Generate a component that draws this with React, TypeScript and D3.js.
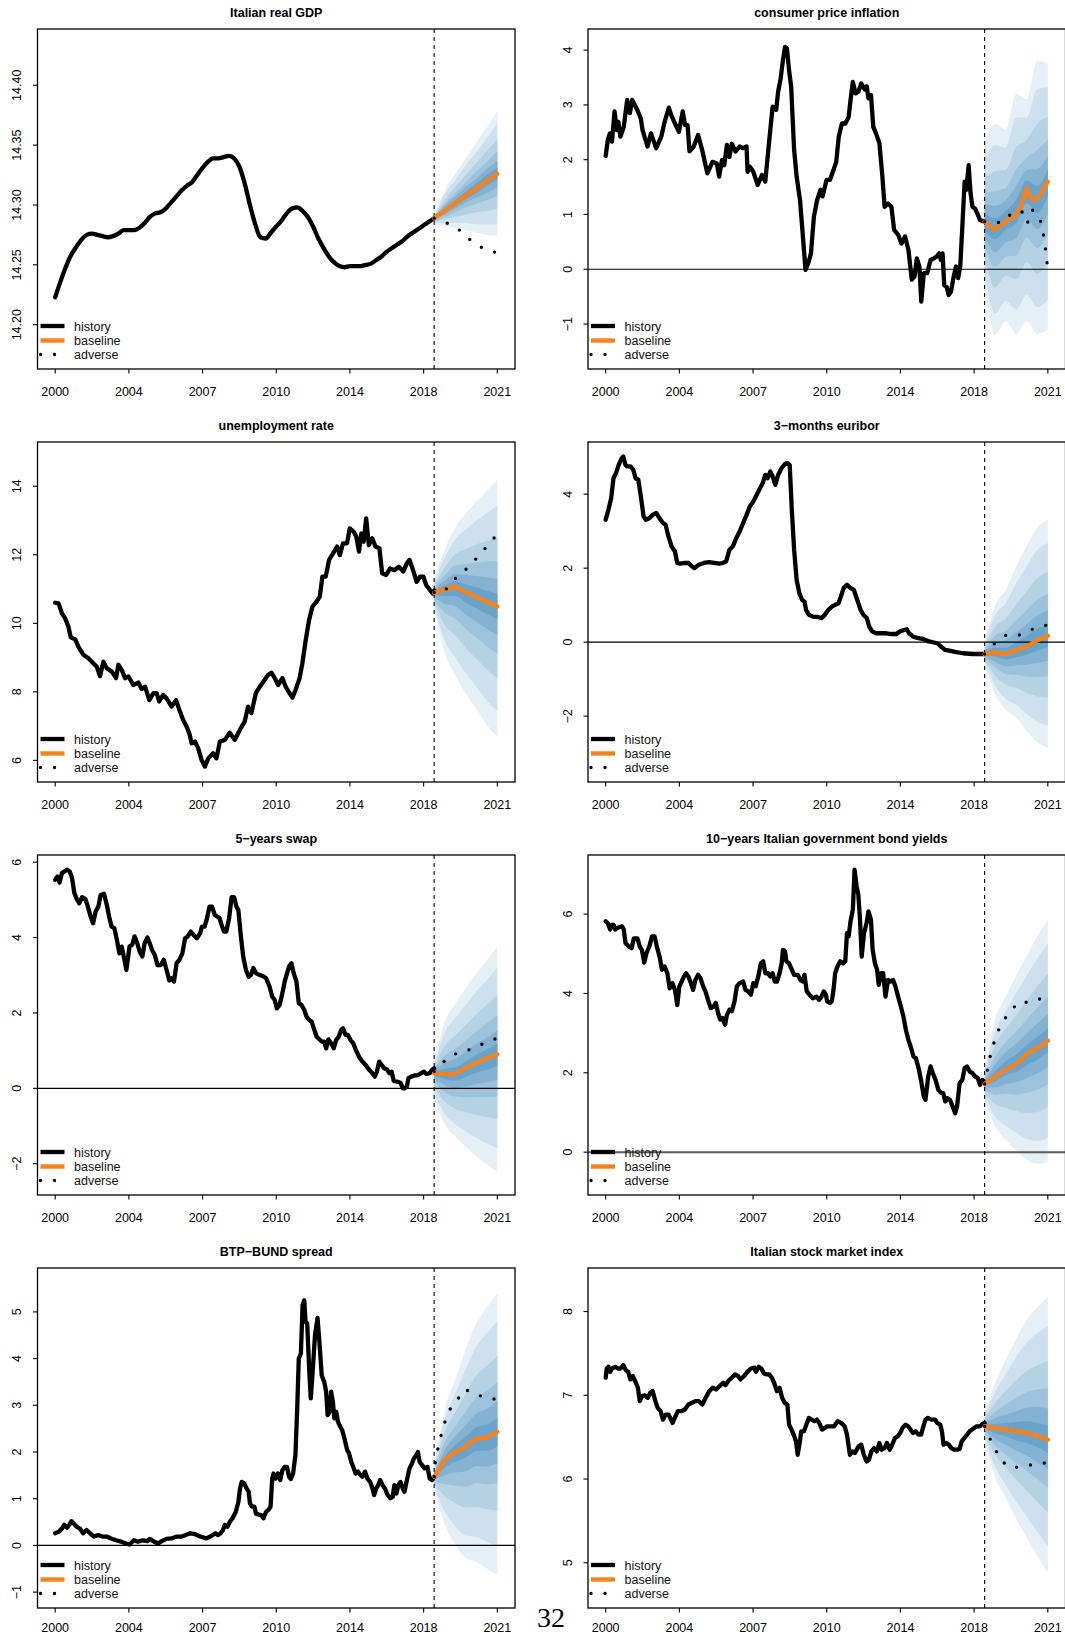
import * as d3 from "d3";

type Pt = [number, number];

// axis ticks: the x axis is evenly spaced in time, labels are rounded years
const xTickYears = [2000, 2003.5, 2007, 2010.5, 2014, 2017.5, 2021];
const xTickLabels = ["2000", "2004", "2007", "2010", "2014", "2018", "2021"];
const fanYears = [2018, 2018.5, 2019, 2019.5, 2020, 2020.5, 2021];
const fanColors = ["#e5eff6", "#cde0ed", "#b5d1e4", "#9dc2db", "#84b2d2", "#6aa3c9"];
const legendLabels = ["history", "baseline", "adverse"];

// ---- Italian real GDP (log) ----
const gdpHistory: Pt[] = [
  [2000, 14.223], [2000.25, 14.236], [2000.5, 14.248], [2000.75, 14.258], [2001, 14.265], [2001.25, 14.271],
  [2001.5, 14.275], [2001.75, 14.276], [2002, 14.275], [2002.25, 14.274], [2002.5, 14.273], [2002.75, 14.274],
  [2003, 14.276], [2003.25, 14.279], [2003.5, 14.279], [2003.75, 14.279], [2004, 14.281], [2004.25, 14.285],
  [2004.5, 14.29], [2004.75, 14.293], [2005, 14.294], [2005.25, 14.297], [2005.5, 14.302], [2005.75, 14.307],
  [2006, 14.312], [2006.25, 14.316], [2006.5, 14.319], [2006.75, 14.325], [2007, 14.331], [2007.25, 14.336],
  [2007.5, 14.339], [2007.75, 14.339], [2008, 14.34], [2008.25, 14.341], [2008.5, 14.339], [2008.75, 14.332],
  [2009, 14.318], [2009.25, 14.3], [2009.5, 14.284], [2009.75, 14.273], [2010, 14.272], [2010.25, 14.277],
  [2010.5, 14.282], [2010.75, 14.287], [2011, 14.293], [2011.25, 14.297], [2011.5, 14.298], [2011.75, 14.295],
  [2012, 14.29], [2012.25, 14.282], [2012.5, 14.272], [2012.75, 14.264], [2013, 14.257], [2013.25, 14.252],
  [2013.5, 14.249], [2013.75, 14.248], [2014, 14.249], [2014.25, 14.249], [2014.5, 14.249], [2014.75, 14.25],
  [2015, 14.251], [2015.25, 14.254], [2015.5, 14.257], [2015.75, 14.261], [2016, 14.264], [2016.25, 14.267],
  [2016.5, 14.27], [2016.75, 14.274], [2017, 14.277], [2017.25, 14.28], [2017.5, 14.283], [2017.75, 14.286],
  [2018, 14.289],
];
const gdpBaseline: Pt[] = [[2018, 14.289], [2021, 14.326]];
const gdpAdverse: Pt[] = [[2018, 14.289], [2018.6, 14.285], [2019.2, 14.279], [2019.7, 14.271], [2020.2, 14.265], [2020.8, 14.261], [2021, 14.26]];
const gdpFan = [
  [14.284, 14.285, 14.286, 14.287, 14.288, 14.289, 14.289, 14.289, 14.29, 14.29, 14.291, 14.291],
  [14.282, 14.285, 14.288, 14.29, 14.292, 14.294, 14.297, 14.299, 14.301, 14.304, 14.309, 14.312],
  [14.281, 14.285, 14.29, 14.294, 14.297, 14.299, 14.304, 14.307, 14.31, 14.315, 14.321, 14.326],
  [14.279, 14.285, 14.292, 14.298, 14.302, 14.305, 14.311, 14.315, 14.319, 14.325, 14.333, 14.339],
  [14.277, 14.284, 14.294, 14.301, 14.306, 14.31, 14.318, 14.322, 14.328, 14.335, 14.344, 14.352],
  [14.275, 14.284, 14.295, 14.304, 14.31, 14.316, 14.325, 14.33, 14.336, 14.345, 14.356, 14.365],
  [14.274, 14.284, 14.297, 14.307, 14.315, 14.321, 14.331, 14.337, 14.345, 14.355, 14.368, 14.378],
];

// ---- consumer price inflation ----
const cpiHistory: Pt[] = [
  [2000, 2.07], [2000.1, 2.36], [2000.2, 2.48], [2000.3, 2.33], [2000.42, 2.88], [2000.53, 2.54], [2000.6, 2.69],
  [2000.7, 2.42], [2000.86, 2.6], [2001.02, 3.09], [2001.15, 2.85], [2001.26, 3.09], [2001.5, 2.91], [2001.67, 2.75],
  [2001.75, 2.54], [2001.99, 2.24], [2002.15, 2.48], [2002.4, 2.21], [2002.64, 2.42], [2002.8, 2.69], [2003, 2.95],
  [2003.12, 2.81], [2003.29, 2.66], [2003.48, 2.51], [2003.66, 2.88], [2003.77, 2.63], [2003.89, 2.63], [2003.98, 2.15],
  [2004.18, 2.24], [2004.39, 2.45], [2004.58, 2.18], [2004.83, 1.75], [2005.07, 1.96], [2005.28, 1.93], [2005.39, 1.69],
  [2005.52, 1.99], [2005.63, 1.9], [2005.76, 2.27], [2005.88, 2.05], [2005.99, 2.29], [2006.17, 2.15], [2006.36, 2.24],
  [2006.53, 2.21], [2006.69, 2.24], [2006.74, 1.78], [2006.85, 1.87], [2007.01, 1.78], [2007.22, 1.54], [2007.42, 1.72],
  [2007.58, 1.6], [2007.74, 2.24], [2007.93, 2.97], [2008.1, 2.91], [2008.19, 3.24], [2008.31, 3.48], [2008.42, 3.82],
  [2008.52, 4.06], [2008.61, 4.03], [2008.71, 3.63], [2008.81, 3.33], [2008.95, 2.18], [2009.07, 1.69], [2009.23, 1.26],
  [2009.33, 0.78], [2009.49, -0.01], [2009.62, 0.11], [2009.75, 0.29], [2009.89, 0.96], [2010.04, 1.26], [2010.2, 1.45],
  [2010.3, 1.33], [2010.49, 1.63], [2010.65, 1.63], [2010.82, 1.81], [2010.95, 1.96], [2011.07, 2.42], [2011.22, 2.66],
  [2011.38, 2.66], [2011.54, 2.78], [2011.63, 3.09], [2011.74, 3.42], [2011.87, 3.21], [2012, 3.24], [2012.14, 3.39],
  [2012.31, 3.28], [2012.4, 3.34], [2012.48, 3.12], [2012.6, 3.18], [2012.71, 2.6], [2012.84, 2.48], [2013, 2.3],
  [2013.13, 1.75], [2013.25, 1.14], [2013.41, 1.2], [2013.57, 1.14], [2013.7, 0.72], [2013.89, 0.63], [2014.05, 0.47],
  [2014.22, 0.6], [2014.38, 0.35], [2014.54, -0.19], [2014.67, -0.13], [2014.78, 0.2], [2014.9, 0.05], [2014.99, -0.59],
  [2015.11, -0.07], [2015.27, -0.07], [2015.43, 0.17], [2015.59, 0.2], [2015.72, 0.23], [2015.84, 0.29], [2015.92, 0.17],
  [2016, 0.29], [2016.08, -0.29], [2016.19, -0.32], [2016.29, -0.47], [2016.4, -0.41], [2016.53, -0.13], [2016.64, 0.05],
  [2016.74, -0.16], [2016.84, 0.05], [2016.94, 0.78], [2017.05, 1.6], [2017.13, 1.45], [2017.24, 1.9], [2017.33, 1.39],
  [2017.42, 1.14], [2017.54, 1.11], [2017.65, 1.02], [2017.78, 0.9], [2018, 0.87],
];
const cpiBaseline: Pt[] = [
  [2018, 0.87], [2018.43, 0.73], [2018.75, 0.78], [2019.07, 0.9], [2019.4, 0.96], [2019.72, 1.14], [2019.92, 1.39],
  [2020.01, 1.48], [2020.14, 1.33], [2020.37, 1.26], [2020.61, 1.33], [2020.77, 1.45], [2021, 1.6],
];
const cpiAdverse: Pt[] = [
  [2018, 0.87], [2018.4, 0.84], [2018.9, 0.87], [2019.3, 1.03], [2019.75, 1.06], [2019.95, 0.95], [2020.03, 0.84],
  [2020.25, 1.09], [2020.6, 0.95], [2020.77, 0.69], [2020.87, 0.43], [2020.95, 0.18], [2021, -0.07],
];
const cpiFan = [
  [-0.3, -0.07, 0.23, 0.45, 0.61, 0.75, 1.01, 1.19, 1.39, 1.66, 2.01, 2.3],
  [-1.2, -0.81, -0.33, 0.04, 0.31, 0.55, 0.93, 1.16, 1.43, 1.79, 2.27, 2.65],
  [-0.95, -0.58, -0.12, 0.23, 0.49, 0.72, 1.07, 1.26, 1.49, 1.81, 2.22, 2.55],
  [-1.18, -0.73, -0.18, 0.25, 0.56, 0.83, 1.27, 1.52, 1.82, 2.23, 2.77, 3.2],
  [-0.95, -0.47, 0.13, 0.59, 0.92, 1.21, 1.62, 1.81, 2.04, 2.36, 2.77, 3.1],
  [-1.18, -0.69, -0.08, 0.39, 0.73, 1.03, 1.52, 1.83, 2.18, 2.66, 3.29, 3.8],
  [-1.1, -0.56, 0.11, 0.63, 1.01, 1.33, 1.82, 2.07, 2.37, 2.78, 3.32, 3.75],
];

// ---- unemployment rate ----
const unempHistory: Pt[] = [
  [2000, 10.6], [2000.16, 10.58], [2000.32, 10.29], [2000.47, 10.15], [2000.63, 9.9], [2000.74, 9.59], [2000.95, 9.53],
  [2001.1, 9.32], [2001.34, 9.08], [2001.58, 8.98], [2001.82, 8.83], [2001.97, 8.74], [2002.13, 8.46], [2002.29, 8.88],
  [2002.45, 8.69], [2002.69, 8.59], [2002.89, 8.4], [2003, 8.79], [2003.16, 8.64], [2003.32, 8.4], [2003.48, 8.45],
  [2003.71, 8.2], [2003.95, 8.27], [2004.11, 8.08], [2004.27, 8.15], [2004.47, 7.76], [2004.66, 7.96], [2004.82, 7.96],
  [2004.94, 7.72], [2005.13, 7.91], [2005.29, 7.81], [2005.53, 7.57], [2005.74, 7.76], [2005.9, 7.47], [2006.08, 7.18],
  [2006.24, 6.99], [2006.37, 6.79], [2006.48, 6.5], [2006.64, 6.55], [2006.79, 6.36], [2006.95, 6.02], [2007.11, 5.82],
  [2007.27, 6.06], [2007.5, 6.21], [2007.66, 6.06], [2007.82, 6.55], [2008.06, 6.6], [2008.29, 6.81], [2008.53, 6.6],
  [2008.77, 6.89], [2009, 7.13], [2009.16, 7.57], [2009.32, 7.38], [2009.53, 7.96], [2009.72, 8.15], [2009.95, 8.35],
  [2010.11, 8.49], [2010.27, 8.56], [2010.43, 8.4], [2010.59, 8.2], [2010.79, 8.4], [2010.95, 8.15], [2011.11, 7.98],
  [2011.27, 7.83], [2011.42, 8.06], [2011.61, 8.4], [2011.74, 8.83], [2011.9, 9.51], [2012.06, 10.1], [2012.22, 10.49],
  [2012.41, 10.63], [2012.57, 10.78], [2012.69, 11.36], [2012.85, 11.36], [2013.01, 11.85], [2013.2, 12.04],
  [2013.39, 12.24], [2013.52, 11.99], [2013.67, 12.33], [2013.86, 12.33], [2013.99, 12.77], [2014.18, 12.67],
  [2014.3, 12.53], [2014.43, 12.09], [2014.54, 12.62], [2014.65, 12.38], [2014.77, 13.06], [2014.9, 12.28],
  [2015.06, 12.48], [2015.21, 12.24], [2015.4, 12.19], [2015.53, 11.46], [2015.72, 11.41], [2015.91, 11.6],
  [2016.11, 11.55], [2016.32, 11.65], [2016.54, 11.51], [2016.7, 11.75], [2016.83, 11.85], [2017.02, 11.51],
  [2017.17, 11.21], [2017.33, 11.36], [2017.49, 11.36], [2017.62, 11.12], [2017.8, 10.97], [2017.93, 10.87],
  [2018, 10.95],
];
const unempBaseline: Pt[] = [[2018, 10.89], [2018.95, 11.07], [2021, 10.49]];
const unempAdverse: Pt[] = [[2018, 10.9], [2018.45, 10.9], [2018.85, 11.23], [2019.32, 11.46], [2019.79, 11.75], [2020.22, 12.04], [2020.65, 12.35], [2021, 12.6]];
const unempFan = [
  [10.4, 10.5, 10.62, 10.71, 10.78, 10.84, 10.93, 10.98, 11.04, 11.12, 11.22, 11.3],
  [9.13, 9.5, 9.96, 10.31, 10.57, 10.8, 11.1, 11.24, 11.4, 11.62, 11.91, 12.14],
  [8.5, 9.01, 9.65, 10.14, 10.5, 10.8, 11.23, 11.44, 11.69, 12.02, 12.45, 12.8],
  [7.95, 8.54, 9.28, 9.84, 10.26, 10.61, 11.14, 11.41, 11.73, 12.17, 12.74, 13.2],
  [7.5, 8.15, 8.97, 9.59, 10.05, 10.44, 11.05, 11.38, 11.77, 12.3, 12.99, 13.55],
  [7.03, 7.75, 8.65, 9.33, 9.84, 10.27, 10.95, 11.34, 11.8, 12.41, 13.22, 13.87],
  [6.69, 7.45, 8.4, 9.12, 9.65, 10.11, 10.86, 11.3, 11.82, 12.52, 13.44, 14.18],
];

// ---- 3-months euribor ----
const euriborHistory: Pt[] = [
  [2000, 3.31], [2000.13, 3.58], [2000.26, 3.89], [2000.37, 4.43], [2000.49, 4.57], [2000.62, 4.79], [2000.74, 4.95],
  [2000.83, 5.02], [2000.94, 4.79], [2001.02, 4.75], [2001.18, 4.75], [2001.31, 4.66], [2001.42, 4.43], [2001.55, 4.39],
  [2001.67, 3.94], [2001.8, 3.4], [2001.91, 3.31], [2002.07, 3.35], [2002.23, 3.44], [2002.4, 3.49], [2002.56, 3.35],
  [2002.72, 3.22], [2002.85, 3.17], [2002.96, 2.9], [2003.13, 2.59], [2003.29, 2.45], [2003.4, 2.14], [2003.53, 2.12],
  [2003.77, 2.14], [2003.93, 2.14], [2004.1, 2.05], [2004.21, 2.0], [2004.42, 2.09], [2004.66, 2.14], [2004.91, 2.16],
  [2005.15, 2.14], [2005.39, 2.12], [2005.55, 2.14], [2005.72, 2.18], [2005.88, 2.5], [2006.04, 2.59], [2006.2, 2.81],
  [2006.36, 2.99], [2006.53, 3.22], [2006.69, 3.44], [2006.85, 3.67], [2007.01, 3.8], [2007.17, 3.98], [2007.33, 4.16],
  [2007.46, 4.3], [2007.58, 4.52], [2007.69, 4.43], [2007.82, 4.61], [2007.93, 4.48], [2008.06, 4.25], [2008.19, 4.52],
  [2008.35, 4.7], [2008.52, 4.82], [2008.63, 4.84], [2008.74, 4.79], [2008.84, 3.58], [2008.95, 2.5], [2009.07, 1.68],
  [2009.2, 1.32], [2009.33, 1.14], [2009.44, 1.1], [2009.52, 0.87], [2009.65, 0.74], [2009.84, 0.69], [2010.09, 0.68],
  [2010.25, 0.65], [2010.41, 0.74], [2010.57, 0.87], [2010.74, 0.96], [2010.9, 1.01], [2011.06, 1.05], [2011.17, 1.23],
  [2011.3, 1.46], [2011.46, 1.55], [2011.63, 1.46], [2011.79, 1.41], [2011.95, 1.14], [2012.11, 0.87], [2012.24, 0.74],
  [2012.4, 0.65], [2012.52, 0.42], [2012.65, 0.29], [2012.84, 0.24], [2013.08, 0.24], [2013.33, 0.24], [2013.57, 0.22],
  [2013.81, 0.22], [2013.97, 0.29], [2014.14, 0.32], [2014.3, 0.35], [2014.41, 0.24], [2014.62, 0.14], [2014.86, 0.11],
  [2015.11, 0.08], [2015.35, 0.02], [2015.59, -0.01], [2015.75, -0.03], [2015.92, -0.12], [2016.13, -0.21],
  [2016.32, -0.23], [2016.65, -0.27], [2016.97, -0.3], [2017.46, -0.32], [2018, -0.32],
];
const euriborBaseline: Pt[] = [[2018, -0.32], [2018.43, -0.28], [2019, -0.32], [2019.56, -0.21], [2020.05, -0.1], [2020.53, 0.06], [2021, 0.17]];
const euriborAdverse: Pt[] = [[2018, -0.32], [2018.45, -0.05], [2019, 0.18], [2019.6, 0.18], [2020.17, 0.33], [2020.8, 0.44], [2021, 0.47]];
const euriborFan = [
  [-0.6, -0.54, -0.47, -0.42, -0.38, -0.35, -0.29, -0.25, -0.21, -0.14, -0.06, 0.0],
  [-1.4, -1.18, -0.9, -0.68, -0.53, -0.39, -0.15, 0.0, 0.18, 0.42, 0.74, 1.0],
  [-1.83, -1.53, -1.15, -0.86, -0.65, -0.47, -0.15, 0.06, 0.3, 0.63, 1.06, 1.41],
  [-2.05, -1.69, -1.23, -0.89, -0.63, -0.41, 0.0, 0.27, 0.59, 1.02, 1.59, 2.05],
  [-2.4, -1.94, -1.37, -0.93, -0.61, -0.34, 0.16, 0.49, 0.87, 1.38, 2.06, 2.6],
  [-2.7, -2.15, -1.46, -0.94, -0.56, -0.23, 0.36, 0.72, 1.15, 1.73, 2.49, 3.1],
  [-2.86, -2.25, -1.5, -0.92, -0.5, -0.13, 0.48, 0.86, 1.3, 1.9, 2.68, 3.31],
];

// ---- 5-years swap ----
const swapHistory: Pt[] = [
  [2000, 5.53], [2000.11, 5.62], [2000.21, 5.46], [2000.32, 5.71], [2000.43, 5.75], [2000.56, 5.8], [2000.69, 5.75],
  [2000.8, 5.58], [2000.91, 5.18], [2001.01, 5.04], [2001.14, 4.91], [2001.28, 5.07], [2001.44, 5.02], [2001.55, 4.82],
  [2001.68, 4.56], [2001.8, 4.38], [2001.92, 4.69], [2002.05, 4.82], [2002.16, 5.13], [2002.32, 5.16], [2002.45, 4.87],
  [2002.56, 4.56], [2002.68, 4.29], [2002.81, 4.25], [2002.93, 3.94], [2003.05, 3.58], [2003.16, 3.76], [2003.29, 3.41],
  [2003.38, 3.14], [2003.53, 3.76], [2003.66, 3.81], [2003.77, 4.03], [2003.9, 3.85], [2004.01, 3.63], [2004.14, 3.5],
  [2004.25, 3.85], [2004.38, 4.0], [2004.49, 3.85], [2004.6, 3.67], [2004.73, 3.54], [2004.86, 3.27], [2005.02, 3.27],
  [2005.16, 3.41], [2005.29, 3.14], [2005.42, 2.86], [2005.53, 2.92], [2005.64, 2.83], [2005.77, 3.32], [2005.9, 3.41],
  [2006.04, 3.58], [2006.17, 3.98], [2006.3, 4.03], [2006.44, 4.16], [2006.57, 4.07], [2006.73, 3.98], [2006.89, 4.12],
  [2006.97, 4.29], [2007.1, 4.29], [2007.21, 4.51], [2007.33, 4.82], [2007.45, 4.82], [2007.58, 4.6], [2007.69, 4.56],
  [2007.81, 4.51], [2007.9, 4.34], [2008.02, 4.16], [2008.13, 4.16], [2008.26, 4.51], [2008.38, 5.07], [2008.5, 5.07],
  [2008.61, 4.82], [2008.7, 4.73], [2008.82, 4.03], [2008.93, 3.5], [2009.06, 3.14], [2009.19, 2.96], [2009.3, 3.01],
  [2009.41, 3.19], [2009.54, 3.05], [2009.7, 3.01], [2009.86, 2.98], [2010.02, 2.92], [2010.18, 2.7], [2010.31, 2.43],
  [2010.42, 2.35], [2010.53, 2.12], [2010.66, 2.21], [2010.79, 2.52], [2010.9, 2.83], [2011.01, 3.05], [2011.11, 3.23],
  [2011.22, 3.32], [2011.33, 3.05], [2011.46, 2.83], [2011.57, 2.26], [2011.7, 2.21], [2011.83, 2.08], [2011.94, 1.9],
  [2012.07, 1.81], [2012.18, 1.77], [2012.31, 1.55], [2012.42, 1.37], [2012.55, 1.3], [2012.66, 1.24], [2012.78, 1.24],
  [2012.87, 1.06], [2012.98, 1.3], [2013.11, 1.19], [2013.23, 1.06], [2013.34, 1.28], [2013.47, 1.37], [2013.58, 1.55],
  [2013.67, 1.59], [2013.79, 1.42], [2013.9, 1.42], [2014.03, 1.28], [2014.16, 1.19], [2014.28, 1.02], [2014.43, 0.84],
  [2014.59, 0.71], [2014.75, 0.62], [2014.91, 0.49], [2015.07, 0.4], [2015.18, 0.31], [2015.28, 0.44], [2015.39, 0.71],
  [2015.5, 0.62], [2015.63, 0.53], [2015.76, 0.5], [2015.87, 0.4], [2015.98, 0.44], [2016.08, 0.2], [2016.24, 0.18],
  [2016.4, 0.15], [2016.51, 0.0], [2016.59, 0.0], [2016.7, 0.04], [2016.78, 0.27], [2016.91, 0.31], [2017.07, 0.34],
  [2017.23, 0.35], [2017.39, 0.4], [2017.52, 0.44], [2017.63, 0.38], [2017.79, 0.4], [2017.9, 0.49], [2018, 0.53],
];
const swapBaseline: Pt[] = [[2018, 0.4], [2018.93, 0.37], [2019.8, 0.62], [2020.4, 0.77], [2021, 0.9]];
const swapAdverse: Pt[] = [[2018, 0.45], [2018.4, 0.68], [2018.92, 0.9], [2019.51, 0.99], [2020.09, 1.13], [2020.7, 1.27], [2021, 1.33]];
const swapFan = [
  [-0.25, -0.12, 0.04, 0.17, 0.26, 0.34, 0.43, 0.47, 0.51, 0.57, 0.64, 0.7],
  [-0.95, -0.68, -0.35, -0.1, 0.09, 0.25, 0.52, 0.68, 0.87, 1.13, 1.48, 1.75],
  [-1.28, -0.95, -0.54, -0.22, 0.01, 0.21, 0.56, 0.78, 1.05, 1.4, 1.87, 2.25],
  [-1.55, -1.14, -0.63, -0.24, 0.05, 0.3, 0.72, 0.97, 1.27, 1.68, 2.22, 2.65],
  [-1.8, -1.31, -0.7, -0.23, 0.11, 0.41, 0.89, 1.18, 1.51, 1.97, 2.57, 3.05],
  [-2.02, -1.46, -0.76, -0.23, 0.16, 0.49, 1.03, 1.35, 1.72, 2.22, 2.87, 3.4],
  [-2.21, -1.59, -0.81, -0.22, 0.22, 0.59, 1.19, 1.53, 1.93, 2.47, 3.19, 3.76],
];

// ---- 10-years Italian government bond yields ----
const btpHistory: Pt[] = [
  [2000, 5.82], [2000.1, 5.77], [2000.21, 5.61], [2000.29, 5.73], [2000.37, 5.73], [2000.45, 5.61], [2000.53, 5.65],
  [2000.65, 5.67], [2000.78, 5.69], [2000.86, 5.61], [2000.94, 5.27], [2001.1, 5.18], [2001.23, 5.14], [2001.34, 5.39],
  [2001.51, 5.39], [2001.62, 5.18], [2001.72, 5.1], [2001.83, 4.78], [2001.94, 5.02], [2002.07, 5.18], [2002.2, 5.44],
  [2002.32, 5.44], [2002.43, 5.18], [2002.56, 4.93], [2002.67, 4.6], [2002.8, 4.68], [2002.93, 4.51], [2003.04, 4.13],
  [2003.17, 4.26], [2003.29, 4.09], [2003.4, 3.71], [2003.5, 4.18], [2003.61, 4.3], [2003.72, 4.43], [2003.82, 4.51],
  [2003.93, 4.43], [2004.05, 4.26], [2004.15, 4.09], [2004.26, 4.34], [2004.39, 4.47], [2004.5, 4.39], [2004.63, 4.18],
  [2004.74, 4.05], [2004.86, 3.84], [2004.99, 3.63], [2005.12, 3.67], [2005.23, 3.76], [2005.34, 3.5], [2005.44, 3.34],
  [2005.55, 3.38], [2005.67, 3.21], [2005.76, 3.46], [2005.88, 3.59], [2005.99, 3.55], [2006.12, 3.8], [2006.23, 4.18],
  [2006.36, 4.26], [2006.53, 4.3], [2006.64, 4.09], [2006.77, 4.05], [2006.9, 3.97], [2007.01, 4.26], [2007.12, 4.18],
  [2007.25, 4.43], [2007.37, 4.76], [2007.48, 4.81], [2007.58, 4.51], [2007.71, 4.51], [2007.82, 4.43], [2007.93, 4.51],
  [2008.03, 4.3], [2008.14, 4.3], [2008.26, 4.51], [2008.36, 4.76], [2008.42, 5.1], [2008.52, 5.06], [2008.58, 4.81],
  [2008.71, 4.76], [2008.84, 4.6], [2008.95, 4.47], [2009.12, 4.47], [2009.25, 4.34], [2009.36, 4.3], [2009.44, 4.47],
  [2009.55, 4.05], [2009.68, 3.97], [2009.84, 3.88], [2010.01, 3.92], [2010.14, 3.84], [2010.25, 3.92], [2010.36, 4.05],
  [2010.46, 3.97], [2010.52, 3.8], [2010.65, 3.76], [2010.74, 3.8], [2010.82, 4.09], [2010.9, 4.51], [2011.01, 4.68],
  [2011.14, 4.81], [2011.27, 4.76], [2011.38, 4.81], [2011.46, 5.52], [2011.54, 5.44], [2011.63, 5.82], [2011.74, 6.11],
  [2011.82, 7.12], [2011.92, 6.7], [2012, 6.49], [2012.08, 5.86], [2012.16, 4.93], [2012.27, 5.52], [2012.39, 5.77],
  [2012.48, 6.07], [2012.6, 5.86], [2012.68, 5.1], [2012.79, 4.76], [2012.89, 4.6], [2012.97, 4.22], [2013.08, 4.51],
  [2013.18, 4.51], [2013.29, 3.92], [2013.41, 4.34], [2013.54, 4.3], [2013.65, 4.34], [2013.76, 4.18], [2013.89, 3.92],
  [2014.02, 3.67], [2014.14, 3.42], [2014.26, 3.08], [2014.38, 2.83], [2014.51, 2.62], [2014.62, 2.41], [2014.73, 2.37],
  [2014.86, 2.12], [2014.99, 1.78], [2015.11, 1.4], [2015.19, 1.32], [2015.32, 1.91], [2015.43, 2.16], [2015.54, 1.99],
  [2015.67, 1.82], [2015.8, 1.57], [2015.92, 1.5], [2016.03, 1.49], [2016.13, 1.28], [2016.24, 1.36], [2016.35, 1.32],
  [2016.48, 1.15], [2016.6, 0.98], [2016.69, 1.15], [2016.81, 1.74], [2016.94, 1.82], [2017.05, 2.12], [2017.16, 2.16],
  [2017.29, 2.03], [2017.42, 1.99], [2017.54, 1.91], [2017.67, 1.87], [2017.78, 1.7], [2017.89, 1.82], [2018, 1.75],
];
const btpBaseline: Pt[] = [[2018, 1.72], [2018.75, 1.99], [2019.56, 2.24], [2020.09, 2.51], [2020.53, 2.62], [2021, 2.81]];
const btpAdverse: Pt[] = [
  [2018, 1.72], [2018.18, 2.24], [2018.34, 2.58], [2018.54, 2.92], [2018.8, 3.25], [2019.19, 3.52], [2019.59, 3.78],
  [2020.17, 3.78], [2020.81, 3.9], [2021, 3.92],
];
const btpFan = [
  [1.3, 1.38, 1.49, 1.57, 1.63, 1.68, 1.76, 1.8, 1.86, 1.93, 2.02, 2.1],
  [0.65, 0.9, 1.21, 1.45, 1.63, 1.78, 2.05, 2.22, 2.42, 2.7, 3.06, 3.35],
  [0.31, 0.67, 1.12, 1.47, 1.72, 1.94, 2.3, 2.52, 2.77, 3.11, 3.56, 3.92],
  [0.05, 0.49, 1.04, 1.45, 1.76, 2.02, 2.46, 2.73, 3.04, 3.46, 4.01, 4.45],
  [-0.2, 0.33, 0.99, 1.5, 1.87, 2.19, 2.7, 3.0, 3.35, 3.83, 4.45, 4.95],
  [-0.3, 0.28, 1.01, 1.57, 1.98, 2.33, 2.9, 3.24, 3.64, 4.18, 4.88, 5.45],
  [-0.24, 0.37, 1.13, 1.71, 2.14, 2.51, 3.12, 3.48, 3.91, 4.49, 5.25, 5.86],
];

// ---- BTP-BUND spread ----
const spreadHistory: Pt[] = [
  [2000, 0.26], [2000.16, 0.29], [2000.32, 0.36], [2000.43, 0.44], [2000.56, 0.38], [2000.67, 0.44], [2000.77, 0.52],
  [2000.88, 0.47], [2001.01, 0.4], [2001.17, 0.36], [2001.33, 0.26], [2001.49, 0.33], [2001.65, 0.26], [2001.84, 0.19],
  [2002.04, 0.22], [2002.24, 0.19], [2002.45, 0.19], [2002.65, 0.15], [2002.89, 0.11], [2003.13, 0.08], [2003.37, 0.04],
  [2003.53, 0.02], [2003.74, 0.11], [2003.93, 0.08], [2004.17, 0.11], [2004.38, 0.09], [2004.49, 0.14], [2004.7, 0.08],
  [2004.89, 0.04], [2005.05, 0.09], [2005.29, 0.14], [2005.53, 0.15], [2005.77, 0.19], [2006.01, 0.19], [2006.17, 0.22],
  [2006.41, 0.26], [2006.65, 0.24], [2006.89, 0.19], [2007.17, 0.15], [2007.37, 0.19], [2007.61, 0.26], [2007.74, 0.22],
  [2007.86, 0.26], [2007.97, 0.33], [2008.06, 0.44], [2008.18, 0.4], [2008.3, 0.51], [2008.42, 0.58], [2008.58, 0.72],
  [2008.7, 0.93], [2008.78, 1.22], [2008.86, 1.36], [2008.98, 1.33], [2009.09, 1.22], [2009.19, 1.15], [2009.25, 0.9],
  [2009.35, 0.83], [2009.46, 0.83], [2009.54, 0.68], [2009.67, 0.66], [2009.78, 0.65], [2009.89, 0.58], [2010.02, 0.72],
  [2010.13, 0.76], [2010.23, 0.83], [2010.31, 1.43], [2010.37, 1.54], [2010.47, 1.43], [2010.58, 1.54], [2010.69, 1.4],
  [2010.79, 1.61], [2010.9, 1.68], [2011.01, 1.68], [2011.11, 1.47], [2011.19, 1.42], [2011.3, 1.54], [2011.41, 1.93],
  [2011.49, 2.86], [2011.57, 4.0], [2011.67, 4.11], [2011.75, 5.14], [2011.83, 5.25], [2011.89, 4.79], [2011.97, 4.75],
  [2012.07, 3.72], [2012.14, 3.15], [2012.23, 3.72], [2012.34, 4.5], [2012.46, 4.87], [2012.55, 4.36], [2012.66, 3.64],
  [2012.78, 3.5], [2012.87, 3.29], [2012.94, 2.79], [2013.03, 2.86], [2013.11, 3.29], [2013.19, 3.07], [2013.26, 2.72],
  [2013.35, 2.86], [2013.43, 2.65], [2013.51, 2.57], [2013.63, 2.47], [2013.74, 2.29], [2013.87, 2.04], [2013.96, 1.97],
  [2014.06, 1.79], [2014.16, 1.68], [2014.27, 1.54], [2014.38, 1.58], [2014.48, 1.52], [2014.59, 1.47], [2014.72, 1.58],
  [2014.83, 1.43], [2014.96, 1.36], [2015.07, 1.22], [2015.15, 1.08], [2015.25, 1.22], [2015.34, 1.29], [2015.44, 1.4],
  [2015.55, 1.29], [2015.66, 1.22], [2015.79, 1.08], [2015.92, 1.01], [2016.03, 1.04], [2016.11, 1.29], [2016.21, 1.11],
  [2016.3, 1.29], [2016.4, 1.36], [2016.51, 1.22], [2016.59, 1.15], [2016.72, 1.43], [2016.83, 1.65], [2016.94, 1.75],
  [2017.04, 1.86], [2017.15, 1.93], [2017.23, 2.0], [2017.31, 1.79], [2017.43, 1.72], [2017.55, 1.65], [2017.68, 1.68],
  [2017.79, 1.43], [2017.91, 1.4], [2018, 1.47],
];
const spreadBaseline: Pt[] = [[2018, 1.47], [2018.57, 1.86], [2018.97, 1.99], [2019.45, 2.09], [2019.8, 2.23], [2020.1, 2.29], [2020.5, 2.31], [2021, 2.43]];
const spreadAdverse: Pt[] = [
  [2018, 1.47], [2018.05, 1.75], [2018.16, 2.04], [2018.32, 2.34], [2018.49, 2.62], [2018.73, 2.9], [2019.08, 3.1],
  [2019.45, 3.35], [2019.94, 3.23], [2020.5, 3.17], [2021, 3.12],
];
const spreadFan = [
  [1.2, 1.25, 1.32, 1.37, 1.41, 1.44, 1.49, 1.52, 1.55, 1.6, 1.65, 1.7],
  [0.45, 0.72, 1.06, 1.31, 1.5, 1.67, 1.91, 2.04, 2.2, 2.41, 2.68, 2.9],
  [0.02, 0.41, 0.91, 1.28, 1.56, 1.79, 2.15, 2.33, 2.55, 2.85, 3.24, 3.55],
  [-0.27, 0.21, 0.81, 1.26, 1.59, 1.88, 2.33, 2.58, 2.87, 3.26, 3.78, 4.2],
  [-0.35, 0.18, 0.83, 1.33, 1.7, 2.02, 2.53, 2.82, 3.17, 3.64, 4.26, 4.75],
  [-0.5, 0.08, 0.78, 1.31, 1.69, 2.03, 2.59, 2.92, 3.31, 3.84, 4.54, 5.1],
  [-0.63, -0.02, 0.75, 1.33, 1.76, 2.12, 2.73, 3.08, 3.5, 4.06, 4.8, 5.39],
];

// ---- Italian stock market index (log) ----
const stockHistory: Pt[] = [
  [2000, 7.21], [2000.05, 7.32], [2000.13, 7.34], [2000.21, 7.28], [2000.3, 7.32], [2000.46, 7.34], [2000.58, 7.32],
  [2000.71, 7.32], [2000.84, 7.36], [2000.96, 7.3], [2001.07, 7.28], [2001.17, 7.19], [2001.29, 7.23], [2001.4, 7.17],
  [2001.53, 7.09], [2001.62, 6.93], [2001.73, 6.99], [2001.86, 7.0], [2002, 6.97], [2002.11, 7.03], [2002.23, 7.05],
  [2002.36, 6.93], [2002.47, 6.85], [2002.61, 6.81], [2002.72, 6.71], [2002.85, 6.77], [2002.99, 6.77], [2003.1, 6.71],
  [2003.18, 6.67], [2003.32, 6.75], [2003.43, 6.81], [2003.6, 6.81], [2003.76, 6.83], [2003.93, 6.89], [2004.09, 6.91],
  [2004.26, 6.93], [2004.42, 6.93], [2004.59, 6.89], [2004.75, 6.97], [2004.92, 7.05], [2005.08, 7.09], [2005.25, 7.07],
  [2005.41, 7.11], [2005.58, 7.15], [2005.69, 7.12], [2005.82, 7.17], [2005.99, 7.21], [2006.15, 7.25], [2006.29, 7.23],
  [2006.4, 7.19], [2006.57, 7.23], [2006.73, 7.28], [2006.9, 7.32], [2007.06, 7.33], [2007.14, 7.28], [2007.27, 7.34],
  [2007.39, 7.32], [2007.52, 7.26], [2007.64, 7.25], [2007.77, 7.25], [2007.89, 7.21], [2008, 7.15], [2008.13, 7.05],
  [2008.26, 7.09], [2008.38, 6.97], [2008.5, 6.91], [2008.63, 6.89], [2008.71, 6.65], [2008.83, 6.59], [2008.96, 6.51],
  [2009.04, 6.45], [2009.12, 6.29], [2009.2, 6.41], [2009.29, 6.57], [2009.42, 6.57], [2009.53, 6.65], [2009.65, 6.73],
  [2009.78, 6.71], [2009.91, 6.69], [2010.03, 6.71], [2010.14, 6.67], [2010.28, 6.59], [2010.41, 6.61], [2010.52, 6.63],
  [2010.69, 6.63], [2010.85, 6.63], [2011.02, 6.69], [2011.18, 6.67], [2011.35, 6.63], [2011.46, 6.53], [2011.6, 6.29],
  [2011.73, 6.33], [2011.84, 6.31], [2012.01, 6.39], [2012.14, 6.41], [2012.26, 6.29], [2012.39, 6.21], [2012.5, 6.23],
  [2012.62, 6.33], [2012.75, 6.37], [2012.88, 6.33], [2013, 6.43], [2013.11, 6.35], [2013.25, 6.37], [2013.36, 6.43],
  [2013.49, 6.35], [2013.61, 6.41], [2013.74, 6.49], [2013.87, 6.51], [2013.99, 6.55], [2014.1, 6.61], [2014.24, 6.65],
  [2014.37, 6.63], [2014.48, 6.59], [2014.6, 6.55], [2014.73, 6.57], [2014.86, 6.53], [2014.98, 6.53], [2015.09, 6.63],
  [2015.19, 6.71], [2015.31, 6.73], [2015.47, 6.71], [2015.64, 6.71], [2015.75, 6.67], [2015.89, 6.65], [2015.97, 6.57],
  [2016.05, 6.41], [2016.18, 6.43], [2016.3, 6.41], [2016.41, 6.37], [2016.55, 6.35], [2016.68, 6.35], [2016.81, 6.36],
  [2016.91, 6.45], [2017.04, 6.49], [2017.17, 6.53], [2017.29, 6.57], [2017.45, 6.6], [2017.62, 6.63], [2017.78, 6.63],
  [2017.91, 6.66], [2018, 6.67],
];
const stockBaseline: Pt[] = [[2018, 6.63], [2018.69, 6.6], [2019.35, 6.58], [2020, 6.55], [2020.59, 6.51], [2021, 6.47]];
const stockAdverse: Pt[] = [[2018, 6.63], [2018.2, 6.51], [2018.49, 6.36], [2018.82, 6.21], [2019.3, 6.13], [2019.93, 6.16], [2020.57, 6.18], [2021, 6.2]];
const stockFan = [
  [6.45, 6.49, 6.53, 6.57, 6.59, 6.61, 6.65, 6.67, 6.69, 6.72, 6.77, 6.8],
  [6.02, 6.14, 6.29, 6.4, 6.48, 6.55, 6.66, 6.73, 6.8, 6.91, 7.04, 7.15],
  [5.77, 5.93, 6.14, 6.29, 6.41, 6.51, 6.67, 6.77, 6.89, 7.05, 7.25, 7.42],
  [5.52, 5.73, 5.99, 6.19, 6.34, 6.46, 6.68, 6.81, 6.97, 7.18, 7.46, 7.68],
  [5.3, 5.55, 5.86, 6.1, 6.28, 6.43, 6.69, 6.85, 7.04, 7.29, 7.63, 7.9],
  [5.08, 5.37, 5.73, 6.0, 6.2, 6.38, 6.67, 6.86, 7.07, 7.36, 7.74, 8.05],
  [4.88, 5.2, 5.6, 5.9, 6.12, 6.31, 6.64, 6.84, 7.08, 7.41, 7.83, 8.17],
];

interface PanelSpec {
  title: string;
  history: Pt[];
  baseline: Pt[];
  adverse: Pt[];
  fan: number[][];
  domain: [number, number];
  ticks: number[];
  digits: number;
  zero: boolean;
  smooth?: boolean;
  zeroColor?: string;
}

const panels: PanelSpec[] = [
  { title: "Italian real GDP", history: gdpHistory, baseline: gdpBaseline, adverse: gdpAdverse, fan: gdpFan,
    domain: [14.163, 14.447], ticks: [14.2, 14.25, 14.3, 14.35, 14.4], digits: 2, zero: false, smooth: true },
  { title: "consumer price inflation", history: cpiHistory, baseline: cpiBaseline, adverse: cpiAdverse, fan: cpiFan,
    domain: [-1.82, 4.385], ticks: [-1, 0, 1, 2, 3, 4], digits: 0, zero: true },
  { title: "unemployment rate", history: unempHistory, baseline: unempBaseline, adverse: unempAdverse, fan: unempFan,
    domain: [5.37, 15.29], ticks: [6, 8, 10, 12, 14], digits: 0, zero: false },
  { title: "3\u2212months euribor", history: euriborHistory, baseline: euriborBaseline, adverse: euriborAdverse, fan: euriborFan,
    domain: [-3.78, 5.41], ticks: [-2, 0, 2, 4], digits: 0, zero: true },
  { title: "5\u2212years swap", history: swapHistory, baseline: swapBaseline, adverse: swapAdverse, fan: swapFan,
    domain: [-2.83, 6.19], ticks: [-2, 0, 2, 4, 6], digits: 0, zero: true },
  { title: "10\u2212years Italian government bond yields", history: btpHistory, baseline: btpBaseline, adverse: btpAdverse, fan: btpFan,
    domain: [-1.08, 7.49], ticks: [0, 2, 4, 6], digits: 0, zero: true, zeroColor: "#5a5a5a" },
  { title: "BTP\u2212BUND spread", history: spreadHistory, baseline: spreadBaseline, adverse: spreadAdverse, fan: spreadFan,
    domain: [-1.34, 5.94], ticks: [-1, 0, 1, 2, 3, 4, 5], digits: 0, zero: true },
  { title: "Italian stock market index", history: stockHistory, baseline: stockBaseline, adverse: stockAdverse, fan: stockFan,
    domain: [4.46, 8.52], ticks: [5, 6, 7, 8], digits: 0, zero: false },
];

const W = 477.5;
const H = 340;
const colLeft = [37.5, 588];
const rowTop = [29, 442, 855, 1268];
const xDomain: [number, number] = [1999.16, 2021.84];
const FONT = "'Liberation Sans', Arial, Helvetica, sans-serif";
const ORANGE = "#f5821f";
const PAGE_H = 1635;

const fmt = (v: number, digits: number) => v.toFixed(digits).replace("-", "\u2212");

function Panel({ p, left, top, idx }: { p: PanelSpec; left: number; top: number; idx: number }) {
  const x = d3.scaleLinear().domain(xDomain).range([left, left + W]);
  const y = d3.scaleLinear().domain(p.domain).range([top + H, top]);
  const line = d3.line<Pt>().x((d) => x(d[0])).y((d) => y(d[1]));
  const smoothLine = d3.line<Pt>().x((d) => x(d[0])).y((d) => y(d[1])).curve(d3.curveMonotoneX);
  const bottom = top + H;
  const clipId = `clip${idx}`;
  // the last row's year labels sit at the page edge, as in the scan
  const labelY = Math.min(bottom + 26.5, PAGE_H - 3);

  const bands = fanColors.map((c, k) => {
    const area = d3
      .area<number[]>()
      .x((_, i) => x(fanYears[i]))
      .y0((r) => y(r[k]))
      .y1((r) => y(r[11 - k]))
      .curve(d3.curveMonotoneX);
    return <path key={k} d={area(p.fan) || ""} fill={c} />;
  });

  const legendY = [bottom - 43, bottom - 28.5, bottom - 14.5];

  return (
    <g>
      <defs>
        <clipPath id={clipId}>
          <rect x={left} y={top} width={W} height={H} />
        </clipPath>
      </defs>
      <text x={left + W / 2} y={top - 12.5} textAnchor="middle" fontFamily={FONT} fontWeight="bold" fontSize={12.5}>
        {p.title}
      </text>
      <g clipPath={`url(#${clipId})`}>
        {bands}
        {p.zero && (
          <line x1={left} x2={left + W} y1={y(0)} y2={y(0)} stroke={p.zeroColor || "#000"} strokeWidth={p.zeroColor ? 2 : 1.2} />
        )}
        <line x1={x(2018)} x2={x(2018)} y1={top} y2={bottom} stroke="#000" strokeWidth={1.1} strokeDasharray="4 4" />
        <path d={(p.smooth ? smoothLine : line)(p.history) || ""} fill="none" stroke="#000" strokeWidth={4.3} strokeLinejoin="round" strokeLinecap="round" />
        <path d={line(p.baseline) || ""} fill="none" stroke={ORANGE} strokeWidth={4.4} strokeLinejoin="round" strokeLinecap="round" />
        <path d={line(p.adverse) || ""} fill="none" stroke="#000" strokeWidth={3.4} strokeLinecap="round" strokeDasharray="0 14" />
      </g>
      {/* legend */}
      <line x1={left + 3} x2={left + 27} y1={legendY[0]} y2={legendY[0]} stroke="#000" strokeWidth={4.3} />
      <line x1={left + 3} x2={left + 27} y1={legendY[1]} y2={legendY[1]} stroke={ORANGE} strokeWidth={4.4} />
      <line x1={left + 3} x2={left + 27} y1={legendY[2]} y2={legendY[2]} stroke="#000" strokeWidth={3.4} strokeLinecap="round" strokeDasharray="0 14" />
      {legendLabels.map((l, i) => (
        <text key={l} x={left + 36.5} y={legendY[i] + 4.5} fontFamily={FONT} fontSize={12.5} fill="#111">
          {l}
        </text>
      ))}
      {/* box */}
      <rect x={left} y={top} width={W} height={H} fill="none" stroke="#000" strokeWidth={1.3} />
      {/* x axis */}
      {xTickYears.map((t, i) => (
        <g key={t}>
          <line x1={x(t)} x2={x(t)} y1={bottom} y2={bottom + 4.5} stroke="#000" strokeWidth={1.1} />
          <text x={x(t)} y={labelY} textAnchor="middle" fontFamily={FONT} fontSize={12.5}>
            {xTickLabels[i]}
          </text>
        </g>
      ))}
      {/* y axis */}
      {p.ticks.map((t) => (
        <g key={t}>
          <line x1={left - 4.5} x2={left} y1={y(t)} y2={y(t)} stroke="#000" strokeWidth={1.1} />
          <text
            transform={`translate(${left - 16.5},${y(t)}) rotate(-90)`}
            textAnchor="middle"
            fontFamily={FONT}
            fontSize={12.5}
          >
            {fmt(t, p.digits)}
          </text>
        </g>
      ))}
    </g>
  );
}

export default function App() {
  return (
    <svg
      width={1065}
      height={PAGE_H}
      style={{ position: "absolute", left: 0, top: 0, background: "#fff" }}
    >
      <rect width={1065} height={PAGE_H} fill="#fff" />
      {panels.map((p, i) => (
        <Panel key={p.title} p={p} idx={i} left={colLeft[i % 2]} top={rowTop[Math.floor(i / 2)]} />
      ))}
      <text x={551} y={1627} textAnchor="middle" fontFamily="'Liberation Serif', 'DejaVu Serif', serif" fontSize={28}>
        32
      </text>
    </svg>
  );
}
